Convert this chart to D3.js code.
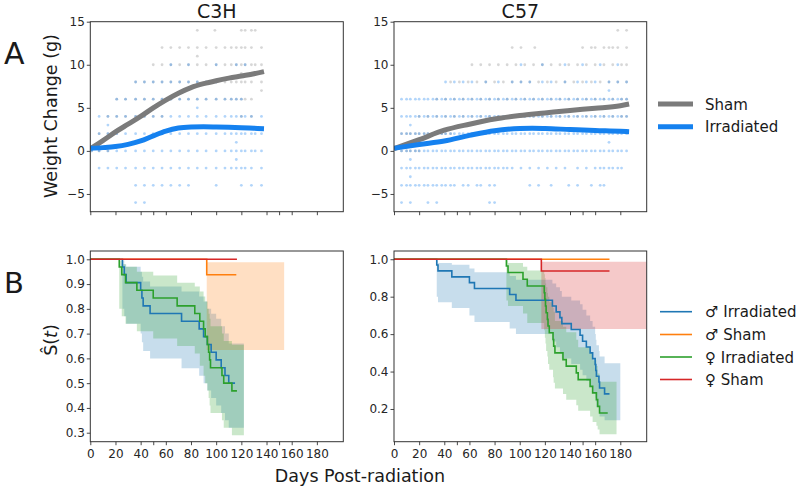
<!DOCTYPE html>
<html><head><meta charset="utf-8">
<script src="https://cdn.jsdelivr.net/npm/d3@7"></script>
<style>body{margin:0;background:#fff;} text{font-family:"DejaVu Sans",sans-serif;}</style>
</head><body><script>
// ---------------- DATA ----------------
const strains = ["C3H", "C57"];
const weightGroups = ["Sham", "Irradiated"];
const survGroups = ["\u2642 Irradiated", "\u2642 Sham", "\u2640 Irradiated", "\u2640 Sham"];

// Weight smooth lines [day, grams]
const c3hShamLine = [[0,0.25],[10,1.2],[20,2.2],[30,3.1],[40,4.0],[50,5.0],[60,5.9],[70,6.7],[80,7.35],[90,7.8],[100,8.15],[110,8.45],[120,8.7],[130,8.95],[138,9.2]];
const c3hIrrLine  = [[0,0.3],[10,0.38],[20,0.5],[30,0.75],[40,1.15],[50,1.75],[60,2.3],[70,2.65],[80,2.77],[90,2.8],[100,2.78],[110,2.75],[120,2.7],[130,2.63],[138,2.58]];
const c57ShamLine = [[0,0.25],[20,1.3],[40,2.4],[60,3.1],[80,3.7],[100,4.1],[120,4.4],[140,4.7],[160,4.95],[180,5.25],[187,5.45]];
const c57IrrLine  = [[0,0.3],[20,0.75],[40,1.15],[60,1.8],[80,2.35],[100,2.6],[110,2.63],[120,2.6],[140,2.48],[160,2.37],[180,2.28],[187,2.23]];

// Weight scatter points: [weight level, [days]]
const c3hDays = [1,7,14,21,28,36,43,50,57,64,71,78,85,92,100,107,112,116,120,123,128,131,136];
const c3hIrrPts = [
  [-6,[36,43]],
  [-4,[36,43,50,57,64,71,78,100,120,128,136]],
  [-2,[7,14,21,28,36,43,50,57,64,71,78,85,92,100,107,112,116,120,123,128,136]],
  [0,c3hDays],
  [2,[7,14,21,28,36,43,50,57,64,71,78,85,92,100,107,112,116,120,123,128,131,136]],
  [4,[7,14,21,28,36,43,50,57,64,71,78,85,92,100,107,112,116,120,123,128,136]],
  [6,[21,28,36,43,50,57,64,71,78,85,92,100,107,112,116,120]],
  [8,[36,43,50,57,64,71,78,85,92,100]],
  [10,[64,78,100,116,123]],
  [3,[14]],[1,[116]],[-1,[116]],[5,[85]]
];
const c3hShamPts = [
  [0,[1,7,14]],
  [2,[7,14,21]],
  [4,[14,21,28,36,43,50,57,120,128]],
  [6,[21,28,36,43,50,57,64,71,78,85,92,100,107,112,116,120,123,128]],
  [8,[36,43,50,57,64,71,78,85,92,100,107,112,116,120,123,128,136]],
  [10,[50,57,64,71,78,85,92,100,107,112,116,120,123,128,131,136]],
  [12,[57,64,71,78,85,92,100,107,112,116,120,123,128,136]],
  [14,[85,99,120,123,128,131]],
  [7,[136]],[9,[120]],[11,[85]]
];
const c57Days = [6,10,13,17,20,24,27,31,34,38,41,45,48,52,55,59,62,66,69,73,76,80,83,87,90,94,97,101,104,108,111,115,118,122,125,129,132,136,139,143,146,150,153,157,160,164,167,171,174,178,181,185];
const c57IrrPts = [
  [-6,[6,13,27,34,76,80]],
  [-4,[6,10,13,17,20,24,27,31,34,38,41,45,48,55,59,66,69,76,80,108,115,125,139,146,157,164,167]],
  [-2,[6,10,13,17,20,24,27,31,34,38,41,45,48,52,55,59,62,66,69,73,76,80,83,87,90,94,101,108,115,122,129,136,146,153,160,164,167,171,174,178,181]],
  [0,c57Days],[2,c57Days],[4,c57Days],[6,c57Days],
  [8,[41,48,55,62,73,83,94,101,108,118,125,136,146,153,160,171,178,185]],
  [10,[101,118,136,150,164,178]],
  [-1,[13]],[-3,[13]],[3,[13]],[1,[171]],[7,[171]]
];
const c57ShamPts = [
  [0,[6,10,13,17,20]],
  [2,[6,10,13,17,20,24,27,31,34,38,41,45]],
  [4,[20,27,34,41,48,55,62,69,76,83,90,97,104,111,118,125,132,139,146,153,160,167,174,181,185]],
  [6,[34,41,48,55,62,69,76,83,90,97,104,111,118,125,132,139,146,153,160,167,174,181,185]],
  [8,[45,52,59,66,73,80,87,94,101,108,115,122,129,136,143,150,157,164,171,178,185]],
  [10,[62,69,76,83,90,97,104,111,118,125,132,139,146,153,160,167,174,181,185]],
  [12,[94,101,112,150,157,160,167,171,174,178,185]],
  [14,[178,185]]
];

// Kaplan-Meier steps [day, S(t)]
const c3hMaleIrr = [[0,1],[25.5,0.969],[27,0.938],[28.5,0.906],[40,0.875],[41,0.844],[42,0.812],[47.5,0.781],[72.5,0.75],[86.5,0.719],[90,0.688],[93,0.656],[96,0.625],[100,0.594],[104,0.562],[107,0.531],[110,0.5],[115,0.5]];
const c3hMaleSham = [[0,1],[92.5,0.9375],[116,0.9375]];
const c3hFemIrr = [[0,1],[23,0.969],[25,0.938],[28,0.906],[37,0.875],[50,0.844],[69,0.812],[83,0.781],[87,0.75],[90,0.719],[91.3,0.688],[93,0.656],[94,0.625],[94.8,0.594],[95.5,0.562],[104.6,0.531],[106,0.5],[112.5,0.469],[116.5,0.469]];
const c3hFemSham = [[0,1],[116.5,1]];
// Confidence bands [day, lower, upper]
const c3hMaleIrrCI = [[25.5,0.80,0.995],[27,0.77,0.98],[28.5,0.74,0.97],[40,0.70,0.95],[41,0.665,0.93],[42,0.63,0.91],[47.5,0.60,0.89],[72.5,0.56,0.87],[86.5,0.53,0.85],[90,0.50,0.83],[93,0.47,0.80],[96,0.44,0.78],[100,0.41,0.76],[104,0.38,0.73],[107,0.35,0.70],[110,0.32,0.66],[122,0.32,0.66]];
const c3hMaleShamCI = [[92.5,0.634,0.988],[154,0.634,0.988]];
const c3hFemIrrCI = [[23,0.80,0.995],[25,0.77,0.98],[28,0.74,0.97],[37,0.71,0.95],[50,0.68,0.935],[69,0.65,0.905],[83,0.62,0.89],[87,0.57,0.87],[90,0.53,0.85],[91.3,0.50,0.83],[93,0.47,0.80],[94,0.44,0.78],[94.8,0.41,0.76],[95.5,0.38,0.73],[104.6,0.35,0.70],[106,0.32,0.67],[112.5,0.29,0.655],[122,0.29,0.655]];

const c57MaleIrr = [[0,1],[34,0.969],[35,0.938],[46,0.906],[60,0.875],[64,0.844],[92,0.812],[97,0.781],[126,0.75],[129,0.719],[132,0.688],[133.5,0.656],[141,0.625],[148,0.594],[150,0.562],[153,0.531],[156,0.5],[158,0.469],[160,0.438],[160.5,0.406],[161,0.375],[163,0.344],[163.5,0.312],[167.5,0.281],[171.4,0.281]];
const c57MaleSham = [[0,1],[171.4,1]];
const c57FemIrr = [[0,1],[89.4,0.964],[90.7,0.929],[102.6,0.893],[106,0.857],[119.5,0.821],[120,0.786],[120.5,0.75],[121,0.714],[122,0.679],[122.5,0.643],[123.5,0.607],[126.5,0.571],[127,0.536],[128,0.5],[134.4,0.464],[137,0.429],[145,0.393],[146.5,0.357],[156,0.321],[158,0.286],[161,0.25],[162,0.214],[163.5,0.179],[170,0.179]];
const c57FemSham = [[0,1],[117.2,0.9375],[171.4,0.9375]];
const c57MaleIrrCI = [[34,0.80,0.995],[35,0.77,0.98],[46,0.74,0.97],[60,0.70,0.95],[64,0.665,0.93],[92,0.63,0.91],[97,0.60,0.89],[126,0.56,0.87],[129,0.53,0.85],[132,0.50,0.83],[133.5,0.47,0.80],[141,0.44,0.78],[148,0.41,0.76],[150,0.38,0.73],[153,0.35,0.70],[156,0.32,0.67],[158,0.29,0.64],[160,0.26,0.60],[160.5,0.24,0.57],[161,0.21,0.54],[163,0.19,0.51],[163.5,0.16,0.48],[167.5,0.14,0.445],[180,0.14,0.445]];
const c57FemIrrCI = [[89.4,0.78,0.995],[90.7,0.75,0.98],[102.6,0.71,0.96],[106,0.66,0.94],[119.5,0.62,0.92],[120,0.58,0.90],[120.5,0.55,0.87],[121,0.51,0.85],[122,0.48,0.82],[122.5,0.44,0.80],[123.5,0.41,0.77],[126.5,0.37,0.74],[127,0.34,0.72],[128,0.31,0.67],[134.4,0.28,0.64],[137,0.25,0.61],[145,0.22,0.57],[146.5,0.19,0.53],[156,0.16,0.50],[158,0.13,0.46],[161,0.11,0.43],[162,0.09,0.39],[163.5,0.065,0.345],[177,0.065,0.345]];
const c57FemShamCI = [[117.2,0.627,0.987],[201,0.627,0.987]];

// Axis ticks
const xTicks = [0,20,40,60,80,100,120,140,160,180];
const xMinorTicks = [50,150];
const yTicksA = [-5,0,5,10,15];
const yTicksBL = [0.3,0.4,0.5,0.6,0.7,0.8,0.9,1.0];
const yTicksBR = [0.2,0.4,0.6,0.8,1.0];

// ---------------- STYLE / LAYOUT ----------------
const colGray = "#7b7b7b", colBright = "#1581ef";
const tab = ["#1f77b4","#ff7f0e","#2ca02c","#d62728"];
const PX = {L:[90.3,343.3], R:[394,646.7]};
const PY = {A:[21.7,211.7], B:[251,441.7]};
const xDom = [0,201];

const svg = d3.select("body").append("svg").attr("width",800).attr("height",490).style("background","#fff");
const defs = svg.append("defs");

function makePanel(id, px, py, yDom, yTicks, yFmt, showX){
  const x = d3.scaleLinear().domain(xDom).range(px);
  const y = d3.scaleLinear().domain(yDom).range([py[1],py[0]]);
  defs.append("clipPath").attr("id","clip"+id).append("rect")
    .attr("x",px[0]).attr("y",py[0]).attr("width",px[1]-px[0]).attr("height",py[1]-py[0]);
  const g = svg.append("g");
  const plot = g.append("g").attr("clip-path",`url(#clip${id})`);
  const axes = svg.append("g");
  const ya = axes.append("g").attr("transform",`translate(${px[0]},0)`)
    .call(d3.axisLeft(y).tickValues(yTicks).tickSize(3.5).tickPadding(2).tickFormat(yFmt));
  const xa = axes.append("g").attr("transform",`translate(0,${py[1]})`)
    .call(d3.axisBottom(x).tickValues(xTicks).tickSize(3.5).tickPadding(4).tickFormat(showX ? d3.format("d") : ""));
  const xm = axes.append("g").attr("transform",`translate(0,${py[1]})`)
    .call(d3.axisBottom(x).tickValues(xMinorTicks).tickSize(3.5).tickFormat(""));
  [ya,xa,xm].forEach(a=>{
    a.select(".domain").remove();
    a.selectAll("line").attr("stroke","#333").attr("stroke-width",0.9);
    a.selectAll("text").attr("font-size","12px").attr("fill","#262626").attr("font-family","DejaVu Sans");
  });
  axes.append("rect").attr("x",px[0]).attr("y",py[0]).attr("width",px[1]-px[0]).attr("height",py[1]-py[0])
    .attr("fill","none").attr("stroke","#333").attr("stroke-width",1);
  return {x,y,plot};
}
const minusFmt = d => d < 0 ? "\u2212" + Math.abs(d) : String(d);
const f1 = d3.format(".1f");

// ---------------- PANEL A ----------------
function weightPanel(id, px, irrPts, shamPts, shamLine, irrLine){
  const p = makePanel(id, px, PY.A, [-7.06,15], yTicksA, minusFmt, false);
  const pts = (levels, color, op) => levels.forEach(([w, days]) => {
    p.plot.append("g").selectAll("circle").data(days).join("circle")
      .attr("cx", d => p.x(d)).attr("cy", p.y(w)).attr("r",1.4)
      .attr("fill", color).attr("fill-opacity", op);
  });
  pts(shamPts, colGray, 0.3);
  pts(irrPts, colBright, 0.33);
  const line = d3.line().x(d=>p.x(d[0])).y(d=>p.y(d[1])).curve(d3.curveMonotoneX);
  p.plot.append("path").datum(shamLine).attr("d",line).attr("fill","none").attr("stroke",colGray).attr("stroke-width",5).attr("stroke-linecap","butt");
  p.plot.append("path").datum(irrLine).attr("d",line).attr("fill","none").attr("stroke",colBright).attr("stroke-width",5).attr("stroke-linecap","butt");
}
weightPanel("AL", PX.L, c3hIrrPts, c3hShamPts, c3hShamLine, c3hIrrLine);
weightPanel("AR", PX.R, c57IrrPts, c57ShamPts, c57ShamLine, c57IrrLine);

// ---------------- PANEL B ----------------
function survPanel(id, px, yDom, yTicks, series, bands){
  const p = makePanel(id, px, PY.B, yDom, yTicks, f1, true);
  const area = d3.area().curve(d3.curveStepAfter).x(d=>p.x(d[0])).y0(d=>p.y(d[1])).y1(d=>p.y(d[2]));
  bands.forEach(([data, ci]) => { if (data) p.plot.append("path").datum(data).attr("d",area).attr("fill",tab[ci]).attr("fill-opacity",0.25); });
  const line = d3.line().curve(d3.curveStepAfter).x(d=>p.x(d[0])).y(d=>p.y(d[1]));
  series.forEach((data, i) => p.plot.append("path").datum(data).attr("d",line).attr("fill","none").attr("stroke",tab[i]).attr("stroke-width",1.6));
}
survPanel("BL", PX.L, [0.2637,1.0335], yTicksBL,
  [c3hMaleIrr, c3hMaleSham, c3hFemIrr, c3hFemSham],
  [[c3hMaleIrrCI,0],[c3hMaleShamCI,1],[c3hFemIrrCI,2]]);
survPanel("BR", PX.R, [0.0253,1.044], yTicksBR,
  [c57MaleIrr, c57MaleSham, c57FemIrr, c57FemSham],
  [[c57MaleIrrCI,0],[c57FemIrrCI,2],[c57FemShamCI,3]]);

// ---------------- TEXT ----------------
const T = (x,y,s,size,anchor) => svg.append("text").attr("x",x).attr("y",y).attr("font-size",size).attr("text-anchor",anchor||"start").attr("fill","#1a1a1a").text(s);
T((PX.L[0]+PX.L[1])/2, 18, strains[0], "19px", "middle");
T((PX.R[0]+PX.R[1])/2, 18, strains[1], "19px", "middle");
T(4, 63.5, "A", "30px");
T(4, 293, "B", "29px");
svg.append("text").attr("transform","translate(57,116) rotate(-90)").attr("text-anchor","middle")
  .attr("font-size","17.5px").attr("fill","#1a1a1a").text("Weight Change (g)");
const sl = svg.append("text").attr("transform","translate(57,340) rotate(-90)").attr("text-anchor","middle")
  .attr("font-size","17.5px").attr("fill","#1a1a1a");
sl.append("tspan").text("\u015C(");
sl.append("tspan").attr("font-style","italic").text("t");
sl.append("tspan").text(")");
T(360, 482, "Days Post-radiation", "17.5px", "middle");

// Legend A
[[colGray, weightGroups[0], 104],[colBright, weightGroups[1], 126.7]].forEach(([c,l,yy])=>{
  svg.append("line").attr("x1",658).attr("x2",693).attr("y1",yy).attr("y2",yy).attr("stroke",c).attr("stroke-width",5);
  T(705, yy+5.5, l, "15px");
});
// Legend B
[311.7,334.5,357,379.5].forEach((yy,i)=>{
  svg.append("line").attr("x1",660).attr("x2",692).attr("y1",yy).attr("y2",yy).attr("stroke",tab[i]).attr("stroke-width",1.6);
  T(705, yy+5.5, survGroups[i], "15px");
});
</script></body></html>
